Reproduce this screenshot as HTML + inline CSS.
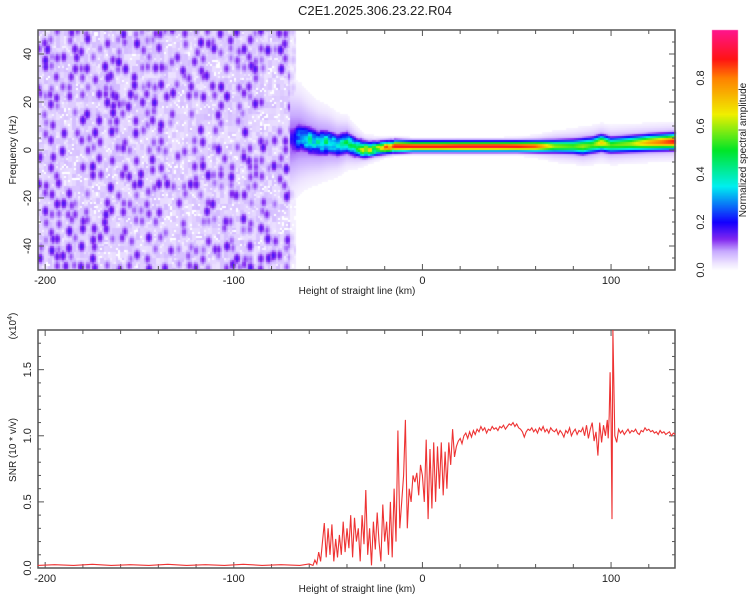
<!DOCTYPE html>
<html><head><meta charset="utf-8">
<style>
body{margin:0;background:#fff;width:750px;height:600px;overflow:hidden;font-family:"Liberation Sans",sans-serif}
#wrap{position:relative;width:750px;height:600px}
canvas,svg{position:absolute;left:0;top:0}
text{font-family:"Liberation Sans",sans-serif;fill:#222}
</style></head>
<body>
<div id="wrap">
<canvas id="spec" width="750" height="600"></canvas>
<svg id="svg" width="750" height="600"></svg>
</div>
<script>
// ---- data ----
const xTicks=[-200,-100,0,100];
const freqTicks=[-40,-20,0,20,40];
const snrTicks=[0.0,0.5,1.0,1.5];
const cbTicks=[0.0,0.2,0.4,0.6,0.8];
// ridge of spectrogram
const ridgeKm  =[-70,-65,-60,-55,-50,-45,-40,-35,-30,-25,-20,-15,-10,-5,0,10,20,30,40,50,60,70,80,85,90,95,100,110,120,134];
const ridgeFreq=[4,5,4,3,3,2,3,1,0,0.5,1,1.5,1.5,1.5,1.5,1.5,1.5,1.5,1.5,1.5,1.5,1.5,1.5,1.5,2,3,2,2.5,3,3.5];
const ridgeAmp =[0.2,0.35,0.45,0.45,0.5,0.45,0.5,0.55,0.75,0.65,0.85,0.9,0.9,0.9,0.9,0.9,0.92,0.92,0.92,0.9,0.85,0.6,0.55,0.6,0.55,0.7,0.55,0.6,0.75,0.9];
const ridgeWid =[4.5,4,3.5,3.2,3,2.8,2.8,2.4,2,1.8,1.6,1.5,1.4,1.3,1.3,1.3,1.3,1.3,1.3,1.3,1.4,1.6,1.8,2,2,2,2,2,2,2];
const haloWid  =[1.4,1.4,1.35,1.3,1.25,1.15,1.0,0.9,0.8,0.75,0.7,0.7,0.7,0.7,0.7,0.7,0.7,0.7,0.7,0.75,0.85,1,1,1,1,1,1,1,1,1];
const noiseEndKm=-70;
// SNR line (units of 1e4)
const snrKm=[-204,-195,-185,-175,-165,-155,-145,-135,-125,-115,-105,-95,-85,-75,-65,-60,-58,-57,-56,-55,-54,-53,-52,-51,-50,-49,-48,-47,-46,-45,-44,-43,-42,-41,-40,-39,-38,-37,-36,-35,-34,-33,-32,-31,-30,-29,-28,-27,-26,-25,-24,-23,-22,-21,-20,-19,-18,-17,-16,-15,-14,-13,-12,-11,-10,-9,-8,-7,-6,-5,-4,-3,-2,-1,0,1,2,3,4,5,6,7,8,9,10,11,12,13,14,15,16,17,18,19,20,21,22,23,24,25,26,27,28,29,30,31,32,33,34,35,36,37,38,39,40,41,42,43,44,45,46,47,48,49,50,51,52,53,54,55,56,57,58,59,60,61,62,63,64,65,66,67,68,69,70,71,72,73,74,75,76,77,78,79,80,81,82,83,84,85,86,87,88,89,90,91,92,93,94,95,96,97,98,98.5,99,99.5,100,100.5,101,102,103,104,105,106,107,108,109,110,111,112,113,114,115,116,117,118,119,120,121,122,123,124,125,126,127,128,129,130,131,132,133,134];
const snrVal=[0.02,0.025,0.02,0.028,0.02,0.025,0.02,0.028,0.02,0.025,0.02,0.028,0.02,0.025,0.02,0.03,0.02,0.06,0.03,0.12,0.05,0.2,0.34,0.08,0.3,0.1,0.33,0.05,0.22,0.08,0.25,0.1,0.35,0.12,0.3,0.15,0.4,0.08,0.38,0.2,0.3,0.05,0.4,0.18,0.59,0.1,0.3,0.02,0.35,0.14,0.42,0.2,0.05,0.48,0.2,0.35,0.1,0.5,0.08,0.6,0.2,1.04,0.3,0.5,0.7,1.12,0.3,0.6,0.5,0.7,0.65,0.72,0.55,0.78,0.7,0.5,0.97,0.37,0.9,0.45,0.95,0.5,0.92,0.6,0.95,0.55,0.88,0.6,0.95,0.78,1.05,0.84,0.92,0.96,0.98,0.94,1.0,1.02,0.98,1.03,0.99,1.04,1.01,1.05,1.03,1.07,1.04,1.06,1.02,1.05,1.04,1.07,1.05,1.06,1.04,1.07,1.06,1.08,1.05,1.07,1.09,1.08,1.1,1.07,1.09,1.06,1.05,1.03,0.99,1.03,1.05,1.04,1.06,1.03,1.05,1.02,1.06,1.04,1.07,1.03,1.05,1.02,1.06,1.04,1.03,1.05,1.01,1.04,1.02,0.99,1.04,1.02,1.06,1.0,1.03,1.05,1.01,1.04,1.03,1.06,1.0,1.08,0.98,1.05,1.1,0.96,1.03,0.85,1.1,0.95,1.08,1.0,1.12,0.98,1.15,1.48,1.1,0.37,1.9,1.0,0.95,1.05,1.02,1.04,1.01,1.03,1.05,1.02,1.04,1.03,1.05,1.02,1.01,1.04,1.03,1.06,1.04,1.05,1.03,1.04,1.02,1.03,1.01,1.04,1.02,1.03,1.01,1.02,1.03,1.0,1.02,1.01,1.03,1.0,1.02];

// ---- axes ----
const X0=38,X1=675,KM0=-203.8,KM1=133.9;
const xs=k=>X0+(k-KM0)/(KM1-KM0)*(X1-X0);
const T0=30,T1=270,F0=-50,F1=50;
const yf=f=>T1-(f-F0)/(F1-F0)*(T1-T0);
const B0=330,B1=568,S0=0,S1=1.8;
const ys=v=>B1-(v-S0)/(S1-S0)*(B1-B0);
const CBx=712,CBw=26,CB0=30,CB1=270;
const yc=v=>CB1-v*(CB1-CB0);

function cmap(v){
  v=Math.max(0,Math.min(1,v));
  const st=[[0,255,255,255],[0.03,238,228,255],[0.08,200,170,255],[0.13,130,40,240],[0.2,20,0,255],[0.35,0,240,240],[0.5,0,230,40],[0.65,240,240,0],[0.8,255,130,0],[0.88,255,20,20],[1,255,20,140]];
  for(let i=1;i<st.length;i++){if(v<=st[i][0]){const a=st[i-1],b=st[i],t=(v-a[0])/(b[0]-a[0]);
    return [a[1]+(b[1]-a[1])*t,a[2]+(b[2]-a[2])*t,a[3]+(b[3]-a[3])*t];}}
  return [255,20,140];
}
function interp(arrX,arrY,x){
  if(x<=arrX[0])return arrY[0];
  for(let i=1;i<arrX.length;i++)if(x<=arrX[i]){const t=(x-arrX[i-1])/(arrX[i]-arrX[i-1]);return arrY[i-1]+(arrY[i]-arrY[i-1])*t;}
  return arrY[arrY.length-1];
}
function hash(i,j){let h=(i*374761393+j*668265263)|0;h=(h^(h>>>13))*1274126177|0;return ((h^(h>>>16))>>>0)/4294967295;}
function blobAt(px,py){
  const gx=px/6,gy=py/9;const ix=Math.floor(gx),iy=Math.floor(gy);let best=0;
  for(let a=-1;a<=1;a++)for(let b=-1;b<=1;b++){
    const cx=ix+a,cy=iy+b;const h=hash(cx+31,cy+977);if(h<0.6)continue;
    const ox=cx+0.5+(hash(cx,cy+5)-0.5)*0.6,oy=cy+0.5+(hash(cx+9,cy)-0.5)*0.6;
    const dx=(gx-ox)*1.5,dy=(gy-oy)*1.4;const dd=dx*dx+dy*dy;
    const s=(h-0.6)/0.4;const val=(0.1+0.07*s)*Math.exp(-dd*0.9);
    if(val>best)best=val;}
  return best;
}

// ---- heatmap ----
const ctx=document.getElementById('spec').getContext('2d');
const cw=2,ch=2;
for(let px=X0;px<X1;px+=cw){
  const km=KM0+(px+cw/2-X0)/(X1-X0)*(KM1-KM0);
  const fc=interp(ridgeKm,ridgeFreq,km),amp=interp(ridgeKm,ridgeAmp,km),w=interp(ridgeKm,ridgeWid,km),hs=interp(ridgeKm,haloWid,km);
  const ci=Math.round(px/cw);
  for(let py=T0;py<T1;py+=ch){
    const f=F0+(T1-py-ch/2)/(T1-T0)*(F1-F0);
    const ri=Math.round(py/ch);
    let v=0;
    if(km<noiseEndKm+3){
      const r=hash(ci,ri);
      const bg=r<0.15?0:0.03+0.035*hash(Math.floor(ci/2),Math.floor(ri/3)+77);
      v=Math.max(bg,blobAt(px,py));
      if(km>noiseEndKm)v*=0.4;
    }
    if(km>=ridgeKm[0]){
      const d=(f-fc)/w;
      const mod=km<-15?0.7+0.3*hash(Math.floor(ci/2),Math.floor(ri/2)+7):1;
      const core=amp*mod*Math.exp(-d*d/2);
      const halo=0.11*Math.exp(-d*d/(8*hs*hs));
      v=Math.max(v,core,halo);
    }
    if(v<0.012)continue;
    const c=cmap(v);
    ctx.fillStyle=`rgb(${c[0]|0},${c[1]|0},${c[2]|0})`;
    ctx.fillRect(px,py,cw,Math.min(ch,T1-py));
  }
}
for(let py=CB0;py<CB1;py++){const c=cmap((CB1-py)/(CB1-CB0));ctx.fillStyle=`rgb(${c[0]|0},${c[1]|0},${c[2]|0})`;ctx.fillRect(CBx,py,CBw,1);}

// ---- svg ----
const svg=document.getElementById('svg');const NS='http://www.w3.org/2000/svg';
function el(tag,attrs,parent){const e=document.createElementNS(NS,tag);for(const k in attrs)e.setAttribute(k,attrs[k]);(parent||svg).appendChild(e);return e;}
function txt(s,x,y,size,rot,name,anchor){const t=el('text',{x:x,y:y,'font-size':size,'text-anchor':anchor||'middle'});
  if(rot)t.setAttribute('transform',`rotate(-90 ${x} ${y})`);t.textContent=s;
  
  return t;}

const title=txt('C2E1.2025.306.23.22.R04',375,15,13,0,'chart-title');

function frame(y0,y1,name){
  const g=el('g',{});
  
  
  el('rect',{x:X0,y:y0,width:X1-X0,height:y1-y0,fill:'none',stroke:'#555','stroke-width':1.5},g);
  for(let k=-200;k<=133;k+=20){const x=xs(k),L=(k%100===0)?6:4;
    el('line',{x1:x,x2:x,y1:y1,y2:y1-L,stroke:'#555'},g);el('line',{x1:x,x2:x,y1:y0,y2:y0+L,stroke:'#555'},g);}
  xTicks.forEach(k=>txt(String(k),xs(k),y1+14,11,0,'x-tick-label'));
  txt('Height of straight line (km)',357,y1+24,10,0,'x-axis-title');
  return g;
}
frame(T0,T1,'spectrogram-frame');
frame(B0,B1,'snr-frame');
for(let f=-50;f<=50;f+=5){const y=yf(f),L=(f%20===0)?6:3;
  el('line',{x1:X0,x2:X0+L,y1:y,y2:y,stroke:'#555'});el('line',{x1:X1,x2:X1-L,y1:y,y2:y,stroke:'#555'});}
freqTicks.forEach(f=>txt(String(f),31,yf(f),11,1,'y-tick-label-frequency'));
txt('Frequency (Hz)',16,150,10,1,'y-axis-title-frequency');
for(let i=0;i<=18;i++){const v=i/10,y=ys(v),L=(i%5===0)?6:3;
  el('line',{x1:X0,x2:X0+L,y1:y,y2:y,stroke:'#555'});el('line',{x1:X1,x2:X1-L,y1:y,y2:y,stroke:'#555'});}
snrTicks.forEach(v=>txt(v.toFixed(1),31,ys(v),11,1,'y-tick-label-snr'));
txt('SNR (10 * v/v)',16,450,10,1,'y-axis-title-snr');
const ex=el('text',{x:16,y:326,'font-size':10,'text-anchor':'middle',transform:'rotate(-90 16 326)'});


ex.innerHTML='(x10<tspan dy="-4" font-size="7">4</tspan><tspan dy="4">)</tspan>';
cbTicks.forEach(v=>txt(v.toFixed(1),704,yc(v),11,1,'colorbar-tick-label'));
txt('Normalized spectral amplitude',746,150,10,1,'colorbar-title');
let d='';snrKm.forEach((k,i)=>{d+=(i?'L':'M')+xs(k).toFixed(1)+' '+Math.max(B0,ys(snrVal[i])).toFixed(1);});
const line=el('path',{d:d,fill:'none',stroke:'#ee3333','stroke-width':1.1});


</script>
</body></html>
